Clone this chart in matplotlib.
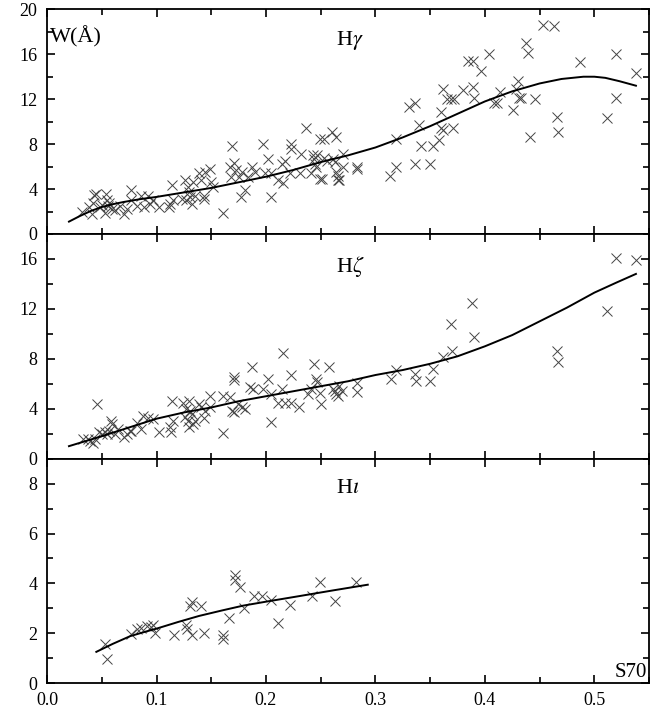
import numpy as np
import matplotlib
matplotlib.use("Agg")
import matplotlib.pyplot as plt
from matplotlib.ticker import MultipleLocator

plt.rcParams["font.family"] = ["Liberation Serif", "DejaVu Serif"]
plt.rcParams["mathtext.fontset"] = "stix"

# H gamma points (x = S70 index, y = W in Angstrom)
hg_x = [0.032, 0.038, 0.041, 0.043, 0.045, 0.042, 0.048, 0.050, 0.054, 0.055, 0.056, 0.053,
        0.057, 0.059, 0.062, 0.067, 0.070, 0.073, 0.077, 0.077, 0.082, 0.086, 0.089, 0.092,
        0.094, 0.097, 0.102, 0.111, 0.112, 0.114, 0.115, 0.123, 0.126, 0.127, 0.129, 0.130,
        0.131, 0.132, 0.133, 0.135, 0.139, 0.141, 0.143, 0.143, 0.144, 0.149, 0.150, 0.152,
        0.161, 0.167, 0.168, 0.169, 0.171, 0.173, 0.175, 0.177, 0.178, 0.181, 0.184, 0.187,
        0.190, 0.197, 0.199, 0.202, 0.205, 0.205, 0.211, 0.215, 0.216, 0.217, 0.223, 0.223,
        0.222, 0.231, 0.232, 0.237, 0.241, 0.243, 0.244, 0.245, 0.246, 0.247, 0.249, 0.249,
        0.253, 0.260, 0.264, 0.264, 0.266, 0.253, 0.256, 0.261, 0.263, 0.266, 0.267, 0.270,
        0.270, 0.283, 0.283, 0.251,
        0.313, 0.319, 0.319, 0.331, 0.336, 0.336, 0.340, 0.342, 0.350, 0.353, 0.358, 0.360,
        0.360, 0.362, 0.362, 0.365, 0.369, 0.371, 0.372, 0.380, 0.385, 0.389, 0.389, 0.390,
        0.396, 0.404, 0.408, 0.411, 0.414, 0.426, 0.428, 0.430, 0.431, 0.433, 0.438, 0.439,
        0.441, 0.446, 0.453, 0.463, 0.466, 0.467, 0.487, 0.512, 0.520, 0.520, 0.538]
hg_y = [2.0, 2.4, 1.8, 3.5, 3.6, 2.8, 2.4, 2.6, 3.6, 3.0, 2.5, 1.9,
        2.8, 2.2, 2.1, 2.5, 1.8, 2.2, 3.9, 3.0, 2.5, 3.4, 2.4, 3.4,
        2.7, 3.0, 2.4, 2.4, 2.7, 4.4, 3.0, 3.1, 4.8, 3.0, 4.2, 3.7,
        3.3, 2.7, 4.6, 3.4, 5.4, 4.8, 3.4, 3.1, 5.5, 5.8, 4.6, 4.2,
        1.9, 6.0, 5.1, 7.8, 6.3, 5.7, 5.1, 3.3, 5.5, 3.9, 5.1, 6.0,
        5.5, 8.0, 5.4, 6.7, 3.3, 5.4, 4.8, 6.2, 4.5, 6.5, 8.0, 7.6,
        5.4, 5.4, 7.1, 9.4, 5.4, 7.0, 6.7, 6.2, 6.0, 7.0, 4.9, 8.5,
        8.5, 9.1, 8.6, 5.5, 4.8, 6.8, 6.5, 6.7, 6.4, 5.2, 4.8, 7.1,
        6.0, 6.0, 5.8, 4.9,
        5.2, 6.0, 8.5, 11.3, 11.7, 6.2, 9.7, 7.8, 6.2, 7.8, 8.4, 10.9,
        9.4, 12.9, 9.3, 12.0, 12.0, 9.4, 12.0, 12.8, 15.4, 15.4, 13.1, 12.1,
        14.5, 16.0, 11.7, 11.7, 12.6, 11.0, 12.9, 13.6, 12.1, 12.1, 17.0, 16.1,
        8.6, 12.0, 18.6, 18.5, 10.4, 9.1, 15.3, 10.3, 16.0, 12.1, 14.3]

# fitted curve for H gamma
hg_fit_x = [0.020, 0.030, 0.040, 0.050, 0.060, 0.070, 0.085, 0.100, 0.125, 0.150, 0.175,
            0.200, 0.225, 0.250, 0.275, 0.300, 0.325, 0.350, 0.375, 0.400, 0.425, 0.450,
            0.470, 0.490, 0.500, 0.510, 0.523, 0.538]
hg_fit_y = [1.1, 1.6, 2.05, 2.4, 2.65, 2.85, 3.1, 3.3, 3.7, 4.1, 4.6,
            5.1, 5.7, 6.4, 7.0, 7.7, 8.6, 9.6, 10.7, 11.8, 12.7, 13.4,
            13.8, 14.0, 14.0, 13.9, 13.6, 13.2]

# H zeta points
hz_x = [0.0325, 0.037, 0.039, 0.042, 0.044, 0.046, 0.047, 0.050, 0.053, 0.055, 0.057, 0.058,
        0.059, 0.062, 0.065, 0.070, 0.073, 0.076, 0.077, 0.082, 0.086, 0.088, 0.092, 0.097,
        0.102, 0.112, 0.113, 0.114, 0.115, 0.124, 0.126, 0.127, 0.129, 0.130, 0.130, 0.131,
        0.132, 0.133, 0.135, 0.139, 0.141, 0.143, 0.144, 0.149, 0.149, 0.161, 0.161, 0.167,
        0.169, 0.171, 0.171, 0.171, 0.174, 0.178, 0.181, 0.185, 0.187, 0.188, 0.197, 0.202,
        0.205, 0.205, 0.211, 0.215, 0.216, 0.217, 0.223, 0.223, 0.230, 0.238, 0.241, 0.244,
        0.246, 0.247, 0.249, 0.250, 0.258, 0.263, 0.264, 0.266, 0.261, 0.269, 0.267, 0.283,
        0.283, 0.314, 0.319, 0.336, 0.337, 0.350, 0.353, 0.362, 0.369, 0.370, 0.388, 0.390,
        0.466, 0.467, 0.512, 0.520, 0.538]
hz_y = [1.58, 1.58, 1.44, 1.23, 1.58, 4.38, 2.10, 1.98, 2.10, 1.98, 2.24, 3.04,
        2.78, 1.98, 2.38, 1.71, 1.98, 2.19, 2.24, 2.83, 2.38, 3.45, 3.26, 3.18,
        2.16, 2.51, 2.11, 4.65, 3.04, 4.43, 3.31, 3.98, 3.04, 2.51, 4.65, 3.85,
        3.58, 2.78, 3.04, 4.38, 4.11, 3.26, 3.85, 5.05, 4.11, 2.03, 5.05, 4.91,
        3.85, 6.30, 6.52, 3.71, 4.38, 4.11, 3.98, 5.72, 7.32, 5.58, 5.58, 6.38,
        2.91, 5.18, 4.43, 5.58, 8.44, 4.43, 6.73, 4.43, 4.11, 5.18, 5.58, 7.58,
        6.38, 6.12, 5.24, 4.38, 7.32, 5.45, 5.18, 5.05, 5.58, 5.45, 5.85, 6.04,
        5.31, 6.38, 7.10, 6.78, 6.25, 6.25, 7.18, 8.12, 10.79, 8.60, 12.47, 9.78,
        8.65, 7.77, 11.80, 16.08, 15.92]

hz_fit_x = [0.020, 0.035, 0.050, 0.075, 0.100, 0.125, 0.150, 0.175, 0.200, 0.225, 0.250,
            0.275, 0.300, 0.325, 0.350, 0.375, 0.400, 0.425, 0.450, 0.475, 0.500, 0.520, 0.538]
hz_fit_y = [1.0, 1.4, 1.8, 2.5, 3.2, 3.7, 4.1, 4.6, 5.0, 5.4, 5.8,
            6.2, 6.7, 7.1, 7.6, 8.2, 9.0, 9.9, 11.0, 12.1, 13.3, 14.1, 14.8]

# H iota points
hi_x = [0.053, 0.055, 0.077, 0.082, 0.086, 0.091, 0.095, 0.097, 0.099, 0.116, 0.127, 0.128,
        0.131, 0.132, 0.132, 0.141, 0.143, 0.161, 0.161, 0.166, 0.172, 0.172, 0.176, 0.180,
        0.189, 0.196, 0.205, 0.211, 0.222, 0.242, 0.249, 0.263, 0.282]
hi_y = [1.59, 0.99, 1.96, 2.16, 2.23, 2.30, 2.27, 2.34, 2.00, 1.93, 2.34, 2.19,
        3.08, 3.27, 1.93, 3.11, 2.03, 1.92, 1.76, 2.61, 4.32, 4.12, 3.85, 3.01,
        3.51, 3.51, 3.35, 2.43, 3.15, 3.51, 4.05, 3.31, 4.05]

hi_fit_x = [0.045, 0.060, 0.076, 0.090, 0.100, 0.120, 0.139, 0.160, 0.179, 0.200, 0.230,
            0.261, 0.293]
hi_fit_y = [1.26, 1.58, 1.89, 2.07, 2.19, 2.46, 2.70, 2.92, 3.11, 3.27, 3.49, 3.72, 3.95]

panels = [
    (hg_x, hg_y, hg_fit_x, hg_fit_y, 20, 4, 2, r"H$\gamma$", 17.2),
    (hz_x, hz_y, hz_fit_x, hz_fit_y, 18, 4, 2, r"H$\zeta$", 15.4),
    (hi_x, hi_y, hi_fit_x, hi_fit_y, 9, 2, 1, r"H$\iota$", 7.8),
]

fig, axes = plt.subplots(3, 1, sharex=True, figsize=(6.63, 7.17), dpi=100)
fig.subplots_adjust(left=0.071, right=0.979, bottom=0.047, top=0.987, hspace=0)

for ax, (x, y, fx, fy, ytop, major, minor, label, ly) in zip(axes, panels):
    ax.plot(x, y, "x", color="#444444", markersize=6.5, markeredgewidth=0.7)
    ax.plot(fx, fy, "-", color="black", linewidth=1.4)
    ax.set_xlim(0, 0.55)
    ax.set_ylim(0, ytop)
    ax.yaxis.set_major_locator(MultipleLocator(major))
    ax.yaxis.set_minor_locator(MultipleLocator(minor))
    ax.xaxis.set_major_locator(MultipleLocator(0.1))
    ax.xaxis.set_minor_locator(MultipleLocator(0.05))
    ax.tick_params(which="both", direction="in", top=True, right=True, labelsize=13, width=1.2)
    ax.tick_params(which="major", length=6)
    ax.tick_params(which="minor", length=4)
    ax.tick_params(axis="y", pad=7)
    ax.tick_params(axis="x", pad=6)
    for s in ax.spines.values():
        s.set_linewidth(1.3)
    ax.text(0.264, ly, label, fontsize=16, va="center", ha="left")

axes[2].xaxis.set_major_formatter(matplotlib.ticker.FormatStrFormatter("%.1f"))
axes[0].text(0.003, 17.6, "W(Å)", fontsize=16, va="center", ha="left")
axes[2].text(0.548, 0.05, "S70", fontsize=15, va="bottom", ha="right")

plt.savefig("out.png", dpi=100)
